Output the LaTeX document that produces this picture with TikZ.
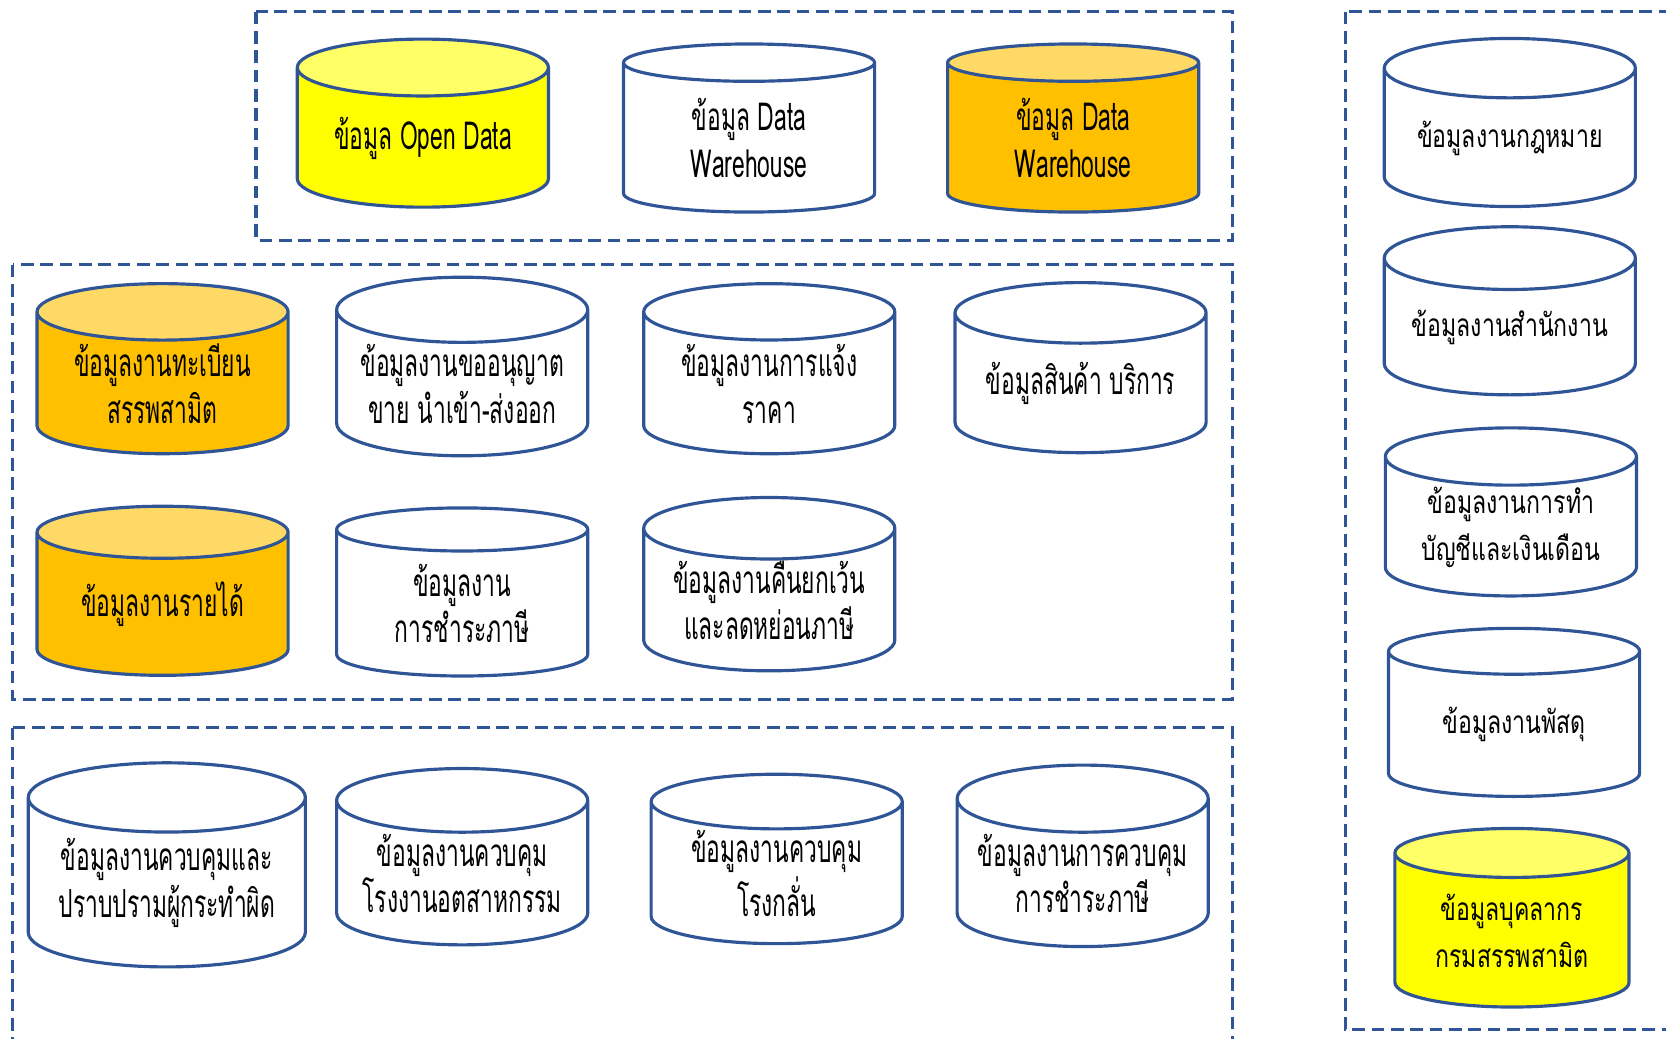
\documentclass[tikz,border=0pt]{standalone}
\usepackage{fontspec}
\newfontfamily\thaifont[Script=Thai, FakeStretch=0.59]{Loma}
\newfontfamily\thaiwide[Script=Thai, FakeStretch=0.73]{Loma}
\usetikzlibrary{shapes.geometric}
\definecolor{dbline}{HTML}{2F5597}
\definecolor{dbyellow}{HTML}{FFFF00}
\definecolor{dbyellowtop}{HTML}{FFFF66}
\definecolor{dborange}{HTML}{FFC000}
\definecolor{dborangetop}{HTML}{FFD966}

\begin{document}
\begin{tikzpicture}[
  x=0.010625cm, y=-0.010625cm,
  db/.style={
    cylinder, shape border rotate=90, draw=dbline, line width=0.9pt,
    aspect=0.32, minimum width=2.51cm, minimum height=1.68cm, inner sep=0pt,
    align=center, font=\thaifont\fontsize{11}{13.3}\selectfont,
    cylinder uses custom fill, cylinder body fill=white, cylinder end fill=white
  },
  dbyel/.style={db, cylinder body fill=dbyellow, cylinder end fill=dbyellowtop},
  dborg/.style={db, cylinder body fill=dborange, cylinder end fill=dborangetop},
  dbside/.style={db, font=\thaiwide\fontsize{9}{13.3}\selectfont},
  group/.style={draw=dbline, line width=0.9pt, dash pattern=on 3.6pt off 1.9pt},
]
\clip (0,0) rectangle (1568,977);

% dashed groups
\draw[group] (241,11) rectangle (1160,226);
\draw[group] (12,249) rectangle (1160,658);
\draw[group] (12,685) rectangle (1160,990);
\draw[group] (1266,11) rectangle (1590,969);

% top group
\node[dbyel] (opendata) at (398,130) {ข้อมูล Open Data};
\node[db] (dwwhite) at (705,130) {ข้อมูล Data\\Warehouse};
\node[dborg] (dworange) at (1010,130) {ข้อมูล Data\\Warehouse};

% middle group
\node[dborg, minimum height=1.70cm] (regist) at (153,361) {ข้อมูลงานทะเบียน\\สรรพสามิต};
\node[db, minimum height=1.70cm] (license) at (435,361) {ข้อมูลงานขออนุญาต\\ขาย นำเข้า-ส่งออก};
\node[db, minimum height=1.70cm] (pricing) at (724,361) {ข้อมูลงานการแจ้ง\\ราคา};
\node[db, minimum height=1.70cm] (goods) at (1017,361) {ข้อมูลสินค้า บริการ};
\node[dborg, minimum height=1.69cm] (income) at (153,569) {ข้อมูลงานรายได้};
\node[db] (taxpay) at (435,568) {ข้อมูลงาน\\การชำระภาษี};
\node[db] (refund) at (724,565) {ข้อมูลงานคืนยกเว้น\\และลดหย่อนภาษี};

% bottom group
\node[db, minimum width=2.77cm, minimum height=2.04cm] (suppress) at (157,831) {ข้อมูลงานควบคุมและ\\ปราบปรามผู้กระทำผิด};
\node[db] (factory) at (435,822) {ข้อมูลงานควบคุม\\โรงงานอตสาหกรรม};
\node[db] (distill) at (731,822) {ข้อมูลงานควบคุม\\โรงกลั่น};
\node[db] (taxctrl) at (1019,822) {ข้อมูลงานการควบคุม\\การชำระภาษี};

% right group
\node[dbside] (law) at (1421,130) {ข้อมูลงานกฎหมาย};
\node[dbside] (office) at (1421,308) {ข้อมูลงานสำนักงาน};
\node[dbside] (account) at (1422,496) {ข้อมูลงานการทำ\\บัญชีและเงินเดือน};
\node[dbside] (supply) at (1425,682) {ข้อมูลงานพัสดุ};
\node[dbside, cylinder body fill=dbyellow, cylinder end fill=dbyellowtop,
  minimum width=2.34cm, minimum height=1.785cm] (staff) at (1423,876) {ข้อมูลบุคลากร\\กรมสรรพสามิต};

\end{tikzpicture}
\end{document}
